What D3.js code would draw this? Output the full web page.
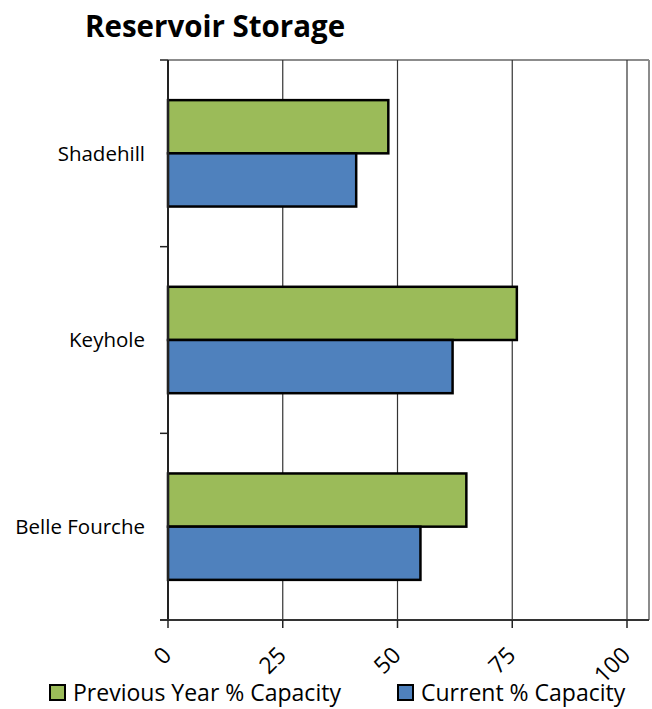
<!DOCTYPE html>
<html>
<head>
<meta charset="utf-8">
<script src="https://cdn.jsdelivr.net/npm/d3@7"></script>
<style>
body{margin:0;background:#fff;}
text{font-family:"Open Sans",sans-serif;fill:#000;}
</style>
</head>
<body>
<svg id="chart" width="652" height="709"></svg>
<script>
const categories = ["Shadehill", "Keyhole", "Belle Fourche"];
const seriesNames = ["Previous Year % Capacity", "Current % Capacity"];
const previousYear = [48, 76, 65];
const current = [41, 62, 55];
const xTicks = [0, 25, 50, 75, 100];
const colors = ["#9BBB59", "#4F81BD"];

(function () {
const svg = d3.select("#chart");
const pLeft = 168, pRight = 649, pTop = 60, pBottom = 620;

const x = d3.scaleLinear().domain([0, 100]).range([pLeft, 627]);
const y = d3.scaleBand().domain(categories).range([pTop, pBottom]).paddingInner(0.43).paddingOuter(0.215);
const ySub = d3.scaleBand().domain([0, 1]).range([0, y.bandwidth()]);

// title
svg.append("text").attr("x", 85).attr("y", 37).attr("font-size", 29.5).attr("font-weight", "bold")
  .text("Reservoir Storage");

// plot border top/right
svg.append("line").attr("x1", pLeft).attr("x2", pRight).attr("y1", pTop).attr("y2", pTop)
  .attr("stroke", "#8c8c8c").attr("stroke-width", 2);
svg.append("line").attr("x1", pRight).attr("x2", pRight).attr("y1", pTop).attr("y2", pBottom)
  .attr("stroke", "#8c8c8c").attr("stroke-width", 2);

// gridlines
svg.append("g").selectAll("line").data(xTicks.filter(d => d > 0)).join("line")
  .attr("x1", d => x(d)).attr("x2", d => x(d)).attr("y1", pTop).attr("y2", pBottom)
  .attr("stroke", "#333").attr("stroke-width", 1.2);

// bars
const data = categories.map((c, i) => ({cat: c, vals: [previousYear[i], current[i]]}));
const g = svg.append("g");
data.forEach(d => {
  d.vals.forEach((v, j) => {
    g.append("rect")
      .attr("x", x(0))
      .attr("y", y(d.cat) + ySub(j))
      .attr("width", x(v) - x(0))
      .attr("height", ySub.bandwidth())
      .attr("fill", colors[j])
      .attr("stroke", "#000").attr("stroke-width", 2.5);
  });
});

// left axis
const step = (pBottom - pTop) / categories.length;
const yTicksLines = d3.range(categories.length + 1).map(i => pTop + i * step);
svg.append("g").selectAll("line").data(yTicksLines).join("line")
  .attr("x1", pLeft - 8).attr("x2", pLeft).attr("y1", d => d).attr("y2", d => d)
  .attr("stroke", "#222").attr("stroke-width", 1.5);
svg.append("line").attr("x1", pLeft).attr("x2", pLeft).attr("y1", pTop).attr("y2", pBottom)
  .attr("stroke", "#222").attr("stroke-width", 2);

svg.append("g").selectAll("text").data(categories).join("text")
  .attr("x", 145).attr("y", d => y(d) + y.bandwidth() / 2)
  .attr("dy", "0.35em").attr("text-anchor", "end").attr("font-size", 20.5)
  .text(d => d);

// bottom axis
svg.append("line").attr("x1", pLeft - 8).attr("x2", pRight).attr("y1", pBottom).attr("y2", pBottom)
  .attr("stroke", "#333").attr("stroke-width", 2);
svg.append("g").selectAll("line").data(xTicks).join("line")
  .attr("x1", d => x(d)).attr("x2", d => x(d)).attr("y1", pBottom).attr("y2", pBottom + 8)
  .attr("stroke", "#222").attr("stroke-width", 1.5);
svg.append("g").selectAll("text").data(xTicks).join("text")
  .attr("transform", d => `translate(${x(d) - 1},${pBottom + 31}) rotate(-45)`)
  .attr("text-anchor", "end").attr("dy", "0.35em").attr("font-size", 23)
  .text(d => d);

// legend
const legendX = [50, 398];
seriesNames.forEach((s, i) => {
  svg.append("rect").attr("x", legendX[i]).attr("y", 685).attr("width", 15).attr("height", 15)
    .attr("fill", colors[i]).attr("stroke", "#000").attr("stroke-width", 2);
  svg.append("text").attr("x", legendX[i] + 23).attr("y", 701).attr("font-size", 23)
    .text(s);
});
})();
</script>
</body>
</html>
